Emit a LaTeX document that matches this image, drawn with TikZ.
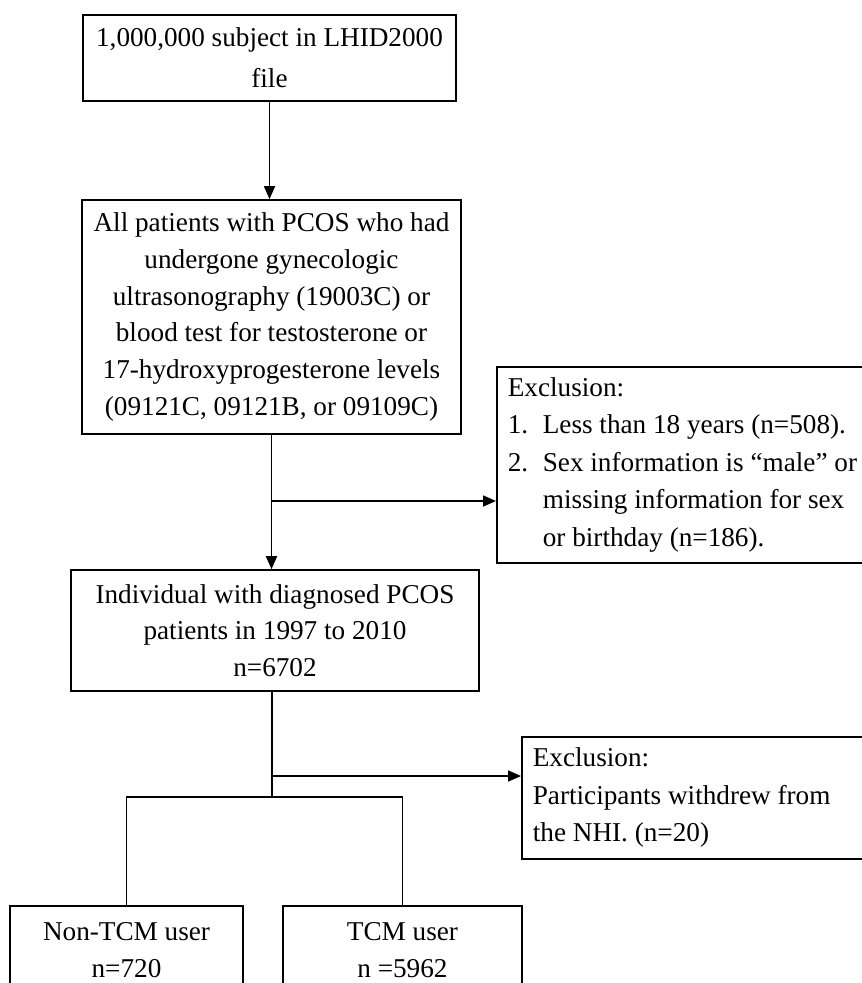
\documentclass[tikz,border=0pt]{standalone}
\usepackage{fontspec}
\setmainfont{Liberation Serif}
\usetikzlibrary{arrows.meta}
\tikzset{
	box/.style={draw, line width=1.7pt, inner sep=0pt, align=center, font=\fontsize{27.2}{36.7}\selectfont},
	exclbox/.style={draw, line width=1.7pt, inner xsep=11pt, inner ysep=0pt, align=flush left, anchor=north west, font=\fontsize{27.2}{37.5}\selectfont},
	arr/.style={line width=1.7pt, -{Triangle[length=13pt,width=11pt]}},
	link/.style={line width=1.7pt}
}

\begin{document}
\begin{tikzpicture}[x=1pt, y=-1pt]
	\useasboundingbox (0,0) rectangle (862,983);
	\clip (0,0) rectangle (862,983);
	\node[box, minimum width=373pt, minimum height=86pt] (lhid) at (269.5,58) {1,000,000 subject in LHID2000\\[4pt]file};
	\node[box, minimum width=379pt, minimum height=234pt] (pcos) at (271.5,317) {All patients with PCOS who had\\undergone gynecologic\\ultrasonography (19003C) or\\blood test for testosterone or\\17-hydroxyprogesterone levels\\(09121C, 09121B, or 09109C)};
	\node[exclbox, minimum width=385pt, minimum height=196pt, text width=363pt] (excla) at (496,366) {Exclusion:\\\makebox[35pt][l]{1.}Less than 18 years (n=508).\\\makebox[35pt][l]{2.}Sex information is “male” or\\\hspace*{35pt}missing information for sex\\\hspace*{35pt}or birthday (n=186).};
	\node[box, minimum width=408pt, minimum height=121pt] (diag) at (275,630.5) {Individual with diagnosed PCOS\\patients in 1997 to 2010\\n=6702};
	\node[exclbox, minimum width=360pt, minimum height=122pt, text width=338pt] (exclb) at (521,736) {Exclusion:\\Participants withdrew from\\the NHI. (n=20)};
	\node[box, minimum width=233pt, minimum height=88pt] (nontcm) at (126.5,950) {Non-TCM user\\n=720};
	\node[box, minimum width=239pt, minimum height=88pt] (tcm) at (402.5,950) {TCM user\\n =5962};

	\coordinate (ja) at (271.5,501);
	\coordinate (jb) at (272,776);
	\coordinate (split) at (272,797);

	\draw[arr] (lhid.south) -- (lhid.south |- pcos.north);
	\draw[arr] (pcos.south) -- (pcos.south |- diag.north);
	\draw[arr] (ja) -- (ja -| excla.west);
	\draw[link] (diag.south -| split) -- (split);
	\draw[arr] (jb) -- (jb -| exclb.west);
	\draw[link] (nontcm.north) |- (split) -| (tcm.north);
\end{tikzpicture}
\end{document}
